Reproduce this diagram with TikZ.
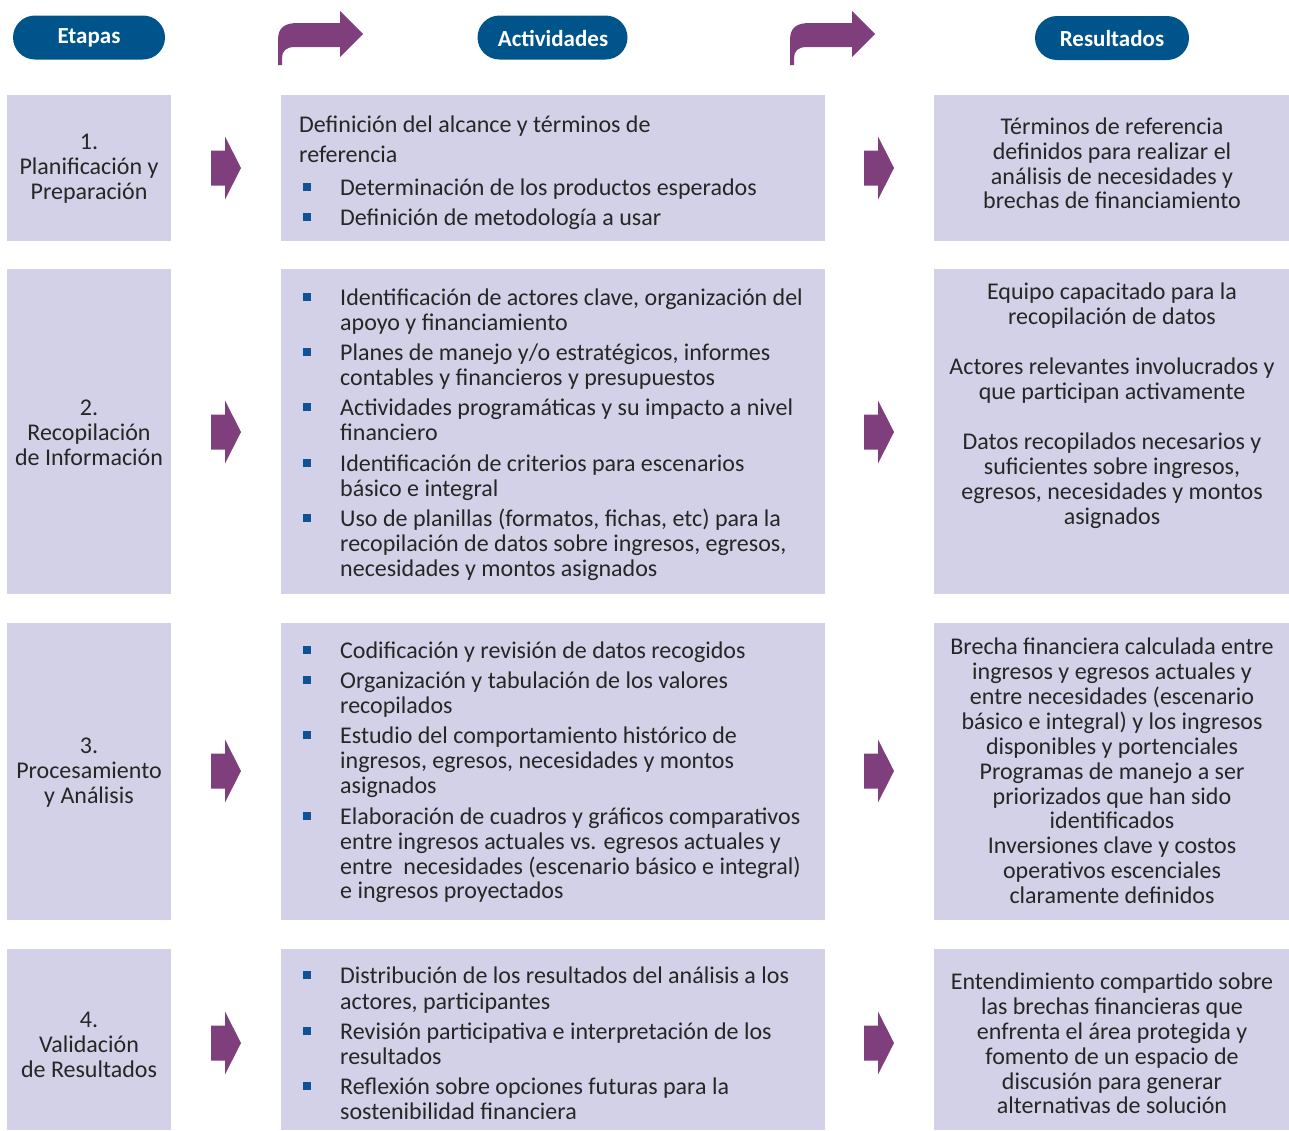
\documentclass[tikz,border=0pt]{standalone}
\usepackage{fontspec}
\setmainfont{Carlito}
\definecolor{boxfill}{RGB}{211,209,231}
\definecolor{pillblue}{RGB}{0,84,140}
\definecolor{arrowpurple}{RGB}{127,63,124}
\definecolor{bulletblue}{RGB}{16,82,150}
\definecolor{txtcol}{RGB}{38,38,38}
\newcommand\barrow[2]{\fill[arrowpurple] (#1,#2-17.5) -- (#1+14,#2-17.5) -- (#1+14,#2-31.5) -- (#1+30,#2) -- (#1+14,#2+31.5) -- (#1+14,#2+17.5) -- (#1,#2+17.5) -- cycle;}
\newcommand\carrow[1]{\begin{scope}[xshift=#1pt]
\fill[arrowpurple] (278,65) -- (278,40) .. controls (278,27) and (285,23) .. (298,23) -- (340,23) -- (340,11) -- (363,34) -- (340,57) -- (340,47) -- (295,47) .. controls (286,47) and (282,51) .. (282,58) -- (282,65) -- cycle;
\end{scope}}
\begin{document}
\begin{tikzpicture}[x=1pt,y=-1pt,
  box/.style={fill=boxfill, draw=none, inner sep=0, minimum width=#1},
  pill/.style={fill=pillblue, draw=none, rounded corners=22pt, inner sep=0, minimum height=44pt, minimum width=#1},
  head/.style={anchor=base, inner sep=0, text=white, font=\fontsize{23}{25}\selectfont\bfseries},
  ln/.style={anchor=base, inner sep=0, text=txtcol, font=\fontsize{24}{25}\selectfont},
  lnl/.style={ln, anchor=base west},
  bul/.style={fill=bulletblue, draw=none, minimum size=8pt, inner sep=0},
]
\useasboundingbox (0,0) rectangle (1289,1130);
% header pills
\node[pill=152pt] (p1) at (89,37.5) {};
\node[pill=150pt] (p2) at (552.5,37.5) {};
\node[pill=154pt] (p3) at (1112,38) {};
\node[head] (h1) at (89,43) {Etapas};
\node[head] (h2) at (553,46) {Actividades};
\node[head] (h3) at (1112,46) {Resultados};
\carrow{0}
\carrow{512}
% boxes
\node[box=164pt, minimum height=146pt] (a1) at (89,168) {};
\node[box=544pt, minimum height=146pt] (b1) at (553,168) {};
\node[box=355pt, minimum height=146pt] (c1) at (1111.5,168) {};
\node[box=164pt, minimum height=325pt] (a2) at (89,431.5) {};
\node[box=544pt, minimum height=325pt] (b2) at (553,431.5) {};
\node[box=355pt, minimum height=325pt] (c2) at (1111.5,431.5) {};
\node[box=164pt, minimum height=297pt] (a3) at (89,771.5) {};
\node[box=544pt, minimum height=297pt] (b3) at (553,771.5) {};
\node[box=355pt, minimum height=297pt] (c3) at (1111.5,771.5) {};
\node[box=164pt, minimum height=181pt] (a4) at (89,1039.5) {};
\node[box=544pt, minimum height=181pt] (b4) at (553,1039.5) {};
\node[box=355pt, minimum height=181pt] (c4) at (1111.5,1039.5) {};
% block arrows
\barrow{211}{168} \barrow{864}{168}
\barrow{211}{432} \barrow{864}{432}
\barrow{211}{771} \barrow{864}{771}
\barrow{211}{1043} \barrow{864}{1043}
% column 1
\node[ln] (a1t1) at (89,149) {1.};
\node[ln] (a1t2) at (89,174) {Planificación y};
\node[ln] (a1t3) at (89,199) {Preparación};
\node[ln] (a2t1) at (89,415) {2.};
\node[ln] (a2t2) at (89,440) {Recopilación};
\node[ln] (a2t3) at (89,465) {de Información};
\node[ln] (a3t1) at (89,753) {3.};
\node[ln] (a3t2) at (89,778) {Procesamiento};
\node[ln] (a3t3) at (89,803) {y Análisis};
\node[ln] (a4t1) at (89,1027) {4.};
\node[ln] (a4t2) at (89,1052) {Validación};
\node[ln] (a4t3) at (89,1077) {de Resultados};
% column 2, row 1
\node[lnl] (b1t1) at (299,132) {Definición del alcance y términos de};
\node[lnl] (b1t2) at (299,162) {referencia};
\node[bul] (b1k1) at (307,187) {};
\node[lnl] (b1t3) at (340,195) {Determinación de los productos esperados};
\node[bul] (b1k2) at (307,217) {};
\node[lnl] (b1t4) at (340,225) {Definición de metodología a usar};
% row 2
\node[bul] (b2k1) at (307,297) {};
\node[lnl] (b2t1) at (340,305) {Identificación de actores clave, organización del};
\node[lnl] (b2t2) at (340,330) {apoyo y financiamiento};
\node[bul] (b2k2) at (307,352) {};
\node[lnl] (b2t3) at (340,360) {Planes de manejo y/o estratégicos, informes};
\node[lnl] (b2t4) at (340,385) {contables y financieros y presupuestos};
\node[bul] (b2k3) at (307,407) {};
\node[lnl] (b2t5) at (340,415) {Actividades programáticas y su impacto a nivel};
\node[lnl] (b2t6) at (340,440) {financiero};
\node[bul] (b2k4) at (307,463) {};
\node[lnl] (b2t7) at (340,471) {Identificación de criterios para escenarios};
\node[lnl] (b2t8) at (340,496) {básico e integral};
\node[bul] (b2k5) at (307,518) {};
\node[lnl] (b2t9) at (340,526) {Uso de planillas (formatos, fichas, etc) para la};
\node[lnl] (b2t10) at (340,551) {recopilación de datos sobre ingresos, egresos,};
\node[lnl] (b2t11) at (340,576) {necesidades y montos asignados};
% row 3
\node[bul] (b3k1) at (307,650) {};
\node[lnl] (b3t1) at (340,658) {Codificación y revisión de datos recogidos};
\node[bul] (b3k2) at (307,680) {};
\node[lnl] (b3t2) at (340,688) {Organización y tabulación de los valores};
\node[lnl] (b3t3) at (340,713) {recopilados};
\node[bul] (b3k3) at (307,735) {};
\node[lnl] (b3t4) at (340,743) {Estudio del comportamiento histórico de};
\node[lnl] (b3t5) at (340,768) {ingresos, egresos, necesidades y montos};
\node[lnl] (b3t6) at (340,793) {asignados};
\node[bul] (b3k4) at (307,816) {};
\node[lnl] (b3t7) at (340,824) {Elaboración de cuadros y gráficos comparativos};
\node[lnl] (b3t8) at (340,849) {entre ingresos actuales vs. egresos actuales y};
\node[lnl] (b3t9) at (340,874) {entre\ \ necesidades (escenario básico e integral)};
\node[lnl] (b3t10) at (340,898) {e ingresos proyectados};
% row 4
\node[bul] (b4k1) at (307,975) {};
\node[lnl] (b4t1) at (340,983) {Distribución de los resultados del análisis a los};
\node[lnl] (b4t2) at (340,1009) {actores, participantes};
\node[bul] (b4k2) at (307,1031) {};
\node[lnl] (b4t3) at (340,1039) {Revisión participativa e interpretación de los};
\node[lnl] (b4t4) at (340,1064) {resultados};
\node[bul] (b4k3) at (307,1086) {};
\node[lnl] (b4t5) at (340,1094) {Reflexión sobre opciones futuras para la};
\node[lnl] (b4t6) at (340,1119) {sostenibilidad financiera};
% column 3
\node[ln] (c1t1) at (1112,134) {Términos de referencia};
\node[ln] (c1t2) at (1112,159) {definidos para realizar el};
\node[ln] (c1t3) at (1112,184) {análisis de necesidades y};
\node[ln] (c1t4) at (1112,208) {brechas de financiamiento};
\node[ln] (c2t1) at (1112,299) {Equipo capacitado para la};
\node[ln] (c2t2) at (1112,324) {recopilación de datos};
\node[ln] (c2t3) at (1112,374) {Actores relevantes involucrados y};
\node[ln] (c2t4) at (1112,399) {que participan activamente};
\node[ln] (c2t5) at (1112,449) {Datos recopilados necesarios y};
\node[ln] (c2t6) at (1112,474) {suficientes sobre ingresos,};
\node[ln] (c2t7) at (1112,499) {egresos, necesidades y montos};
\node[ln] (c2t8) at (1112,524) {asignados};
\node[ln] (c3t1) at (1112,654) {Brecha financiera calculada entre};
\node[ln] (c3t2) at (1112,679) {ingresos y egresos actuales y};
\node[ln] (c3t3) at (1112,704) {entre necesidades (escenario};
\node[ln] (c3t4) at (1112,729) {básico e integral) y los ingresos};
\node[ln] (c3t5) at (1112,754) {disponibles y portenciales};
\node[ln] (c3t6) at (1112,779) {Programas de manejo a ser};
\node[ln] (c3t7) at (1112,804) {priorizados que han sido};
\node[ln] (c3t8) at (1112,828) {identificados};
\node[ln] (c3t9) at (1112,853) {Inversiones clave y costos};
\node[ln] (c3t10) at (1112,878) {operativos escenciales};
\node[ln] (c3t11) at (1112,903) {claramente definidos};
\node[ln] (c4t1) at (1112,989) {Entendimiento compartido sobre};
\node[ln] (c4t2) at (1112,1014) {las brechas financieras que};
\node[ln] (c4t3) at (1112,1039) {enfrenta el área protegida y};
\node[ln] (c4t4) at (1112,1064) {fomento de un espacio de};
\node[ln] (c4t5) at (1112,1089) {discusión para generar};
\node[ln] (c4t6) at (1112,1113) {alternativas de solución};
\end{tikzpicture}
\end{document}
